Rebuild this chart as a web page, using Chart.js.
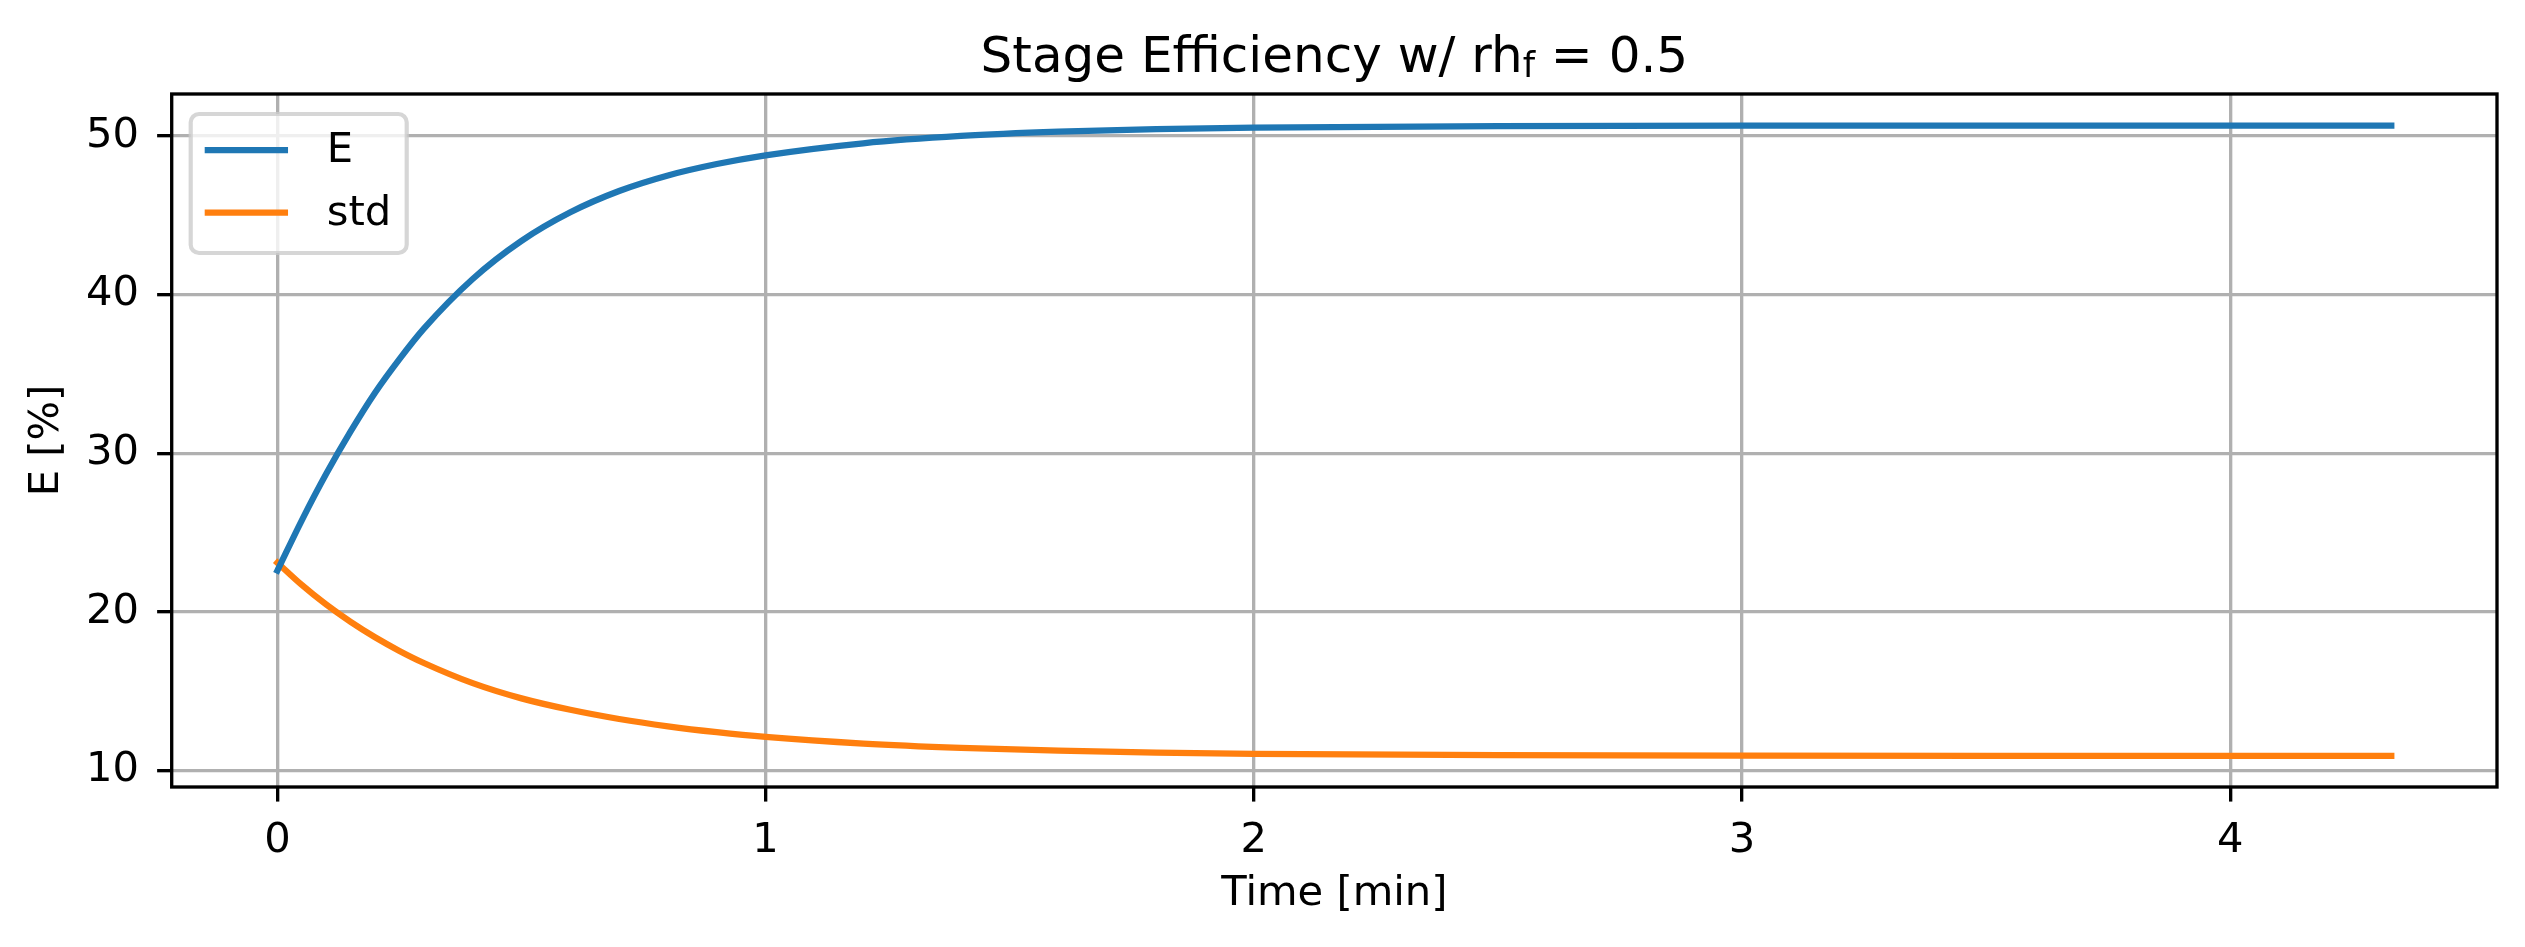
<!DOCTYPE html>
<html>
<head>
<meta charset="utf-8">
<script src="https://cdn.jsdelivr.net/npm/chart.js@4.4.1/dist/chart.umd.min.js"></script>
<style>
    body { margin: 0; background: #fff; }
    #wrap { width: 2525px; height: 947px; position: relative; }
</style>
</head>
<body>
<div id="wrap"><canvas id="effChart"></canvas></div>
<script>
// time axis [min] and the two series
const timeMin = [0, 0.05, 0.1, 0.15, 0.2, 0.25, 0.3, 0.4, 0.5, 0.6, 0.7, 0.8, 0.9, 1.0,
                 1.2, 1.4, 1.6, 1.8, 2.0, 2.5, 3.0, 3.5, 4.0, 4.33];
const effE   = [22.6, 25.77, 28.7, 31.37, 33.81, 35.93, 37.85, 40.98, 43.38, 45.18, 46.52, 47.5, 48.22, 48.77,
                49.53, 49.99, 50.26, 50.42, 50.51, 50.61, 50.64, 50.65, 50.65, 50.65];
const effStd = [23.1, 21.7, 20.46, 19.37, 18.4, 17.54, 16.78, 15.51, 14.55, 13.83, 13.25, 12.79, 12.42, 12.12,
                11.7, 11.43, 11.25, 11.13, 11.06, 10.97, 10.94, 10.93, 10.93, 10.93];
const seriesLabels = ['E', 'std'];
const xTickValues = [0, 1, 2, 3, 4];
const yTickValues = [10, 20, 30, 40, 50];

// title pieces (rh with subscript f)
const titleMain = 'Stage Efficiency w/ rh';
const titleSub = 'f';
const titleTail = ' = 0.5';

const FONT = "'DejaVu Sans', 'Liberation Sans', sans-serif";
const PT = 300 / 72;   // px per pt at 300 dpi
const LW = 0.8 * PT;

Chart.defaults.font.family = FONT;
Chart.defaults.font.size = 10 * PT;
Chart.defaults.color = '#000';

const toXY = (ys) => ys.map((y, i) => ({ x: timeMin[i], y: y }));

// spines, title and legend box drawn matplotlib style
const mplDecor = {
    id: 'mplDecor',
    afterDraw(chart) {
        const ctx = chart.ctx;
        const a = chart.chartArea;
        ctx.save();

        // spines
        ctx.strokeStyle = '#000';
        ctx.lineWidth = LW;
        ctx.lineJoin = 'miter';
        ctx.strokeRect(a.left, a.top, a.right - a.left, a.bottom - a.top);

        // title
        const big = 12 * PT, small = big * 0.7;
        ctx.fillStyle = '#000';
        ctx.textBaseline = 'alphabetic';
        ctx.textAlign = 'left';
        ctx.font = big + 'px ' + FONT;
        const w1 = ctx.measureText(titleMain).width;
        const w3 = ctx.measureText(titleTail).width;
        ctx.font = small + 'px ' + FONT;
        const w2 = ctx.measureText(titleSub).width;
        const total = w1 + w2 + w3;
        let x = (a.left + a.right) / 2 - total / 2;
        const base = a.top - 22;
        ctx.font = big + 'px ' + FONT;
        ctx.fillText(titleMain, x, base);
        x += w1;
        ctx.font = small + 'px ' + FONT;
        ctx.fillText(titleSub, x, base + 5);
        x += w2;
        ctx.font = big + 'px ' + FONT;
        ctx.fillText(titleTail, x, base);

        // legend
        const fs = 10 * PT;
        const bx = a.left + 19, by = a.top + 20, bw = 216, bh = 139, r = 0.2 * fs;
        ctx.beginPath();
        ctx.roundRect(bx, by, bw, bh, r);
        ctx.fillStyle = 'rgba(255,255,255,0.8)';
        ctx.fill();
        ctx.strokeStyle = 'rgba(204,204,204,0.8)';
        ctx.lineWidth = 1.0 * PT;
        ctx.stroke();
        ctx.font = fs + 'px ' + FONT;
        ctx.textBaseline = 'middle';
        chart.data.datasets.forEach((ds, i) => {
            const yy = by + 36 + i * 62.7;
            ctx.beginPath();
            ctx.moveTo(bx + 14, yy);
            ctx.lineTo(bx + 14 + 2 * fs, yy);
            ctx.strokeStyle = ds.borderColor;
            ctx.lineWidth = 1.5 * PT;
            ctx.lineCap = 'butt';
            ctx.stroke();
            ctx.fillStyle = '#000';
            ctx.fillText(ds.label, bx + 136, yy + 1);
        });
        ctx.restore();
    }
};

const ctx = document.getElementById('effChart').getContext('2d');
const effChart = new Chart(ctx, {
    type: 'line',
    data: {
        datasets: [
            { label: seriesLabels[0], data: toXY(effE), borderColor: '#1f77b4' },
            { label: seriesLabels[1], data: toXY(effStd), borderColor: '#ff7f0e' }
        ]
    },
    options: {
        responsive: true,
        maintainAspectRatio: false,
        devicePixelRatio: 1,
        animation: false,
        layout: { padding: { top: 94, right: 28, bottom: 0, left: 0 } },
        elements: {
            point: { radius: 0 },
            line: { borderWidth: 1.5 * PT, cubicInterpolationMode: 'monotone', fill: false, borderCapStyle: 'square' }
        },
        plugins: {
            legend: { display: false },
            title: { display: false },
            tooltip: { enabled: false }
        },
        scales: {
            x: {
                type: 'linear',
                min: -0.2165,
                max: 4.5465,
                afterFit: s => { s.height = 160; },
                afterBuildTicks: s => { s.ticks = xTickValues.map(v => ({ value: v })); },
                ticks: { padding: 15, includeBounds: false, callback: v => String(v) },
                grid: { color: '#b0b0b0', lineWidth: LW, tickColor: '#000', tickWidth: LW, tickLength: 3.5 * PT },
                border: { display: false },
                title: { display: true, text: 'Time [min]', padding: { top: 0, bottom: 28 } }
            },
            y: {
                min: 8.965,
                max: 52.635,
                afterFit: s => { s.width = 171.7; },
                afterBuildTicks: s => { s.ticks = yTickValues.map(v => ({ value: v })); },
                ticks: { padding: 18, includeBounds: false, callback: v => String(v) },
                grid: { color: '#b0b0b0', lineWidth: LW, tickColor: '#000', tickWidth: LW, tickLength: 3.5 * PT },
                border: { display: false },
                title: { display: true, text: 'E [%]', padding: { top: 22, bottom: 0 } }
            }
        }
    },
    plugins: [mplDecor]
});
</script>
</body>
</html>
